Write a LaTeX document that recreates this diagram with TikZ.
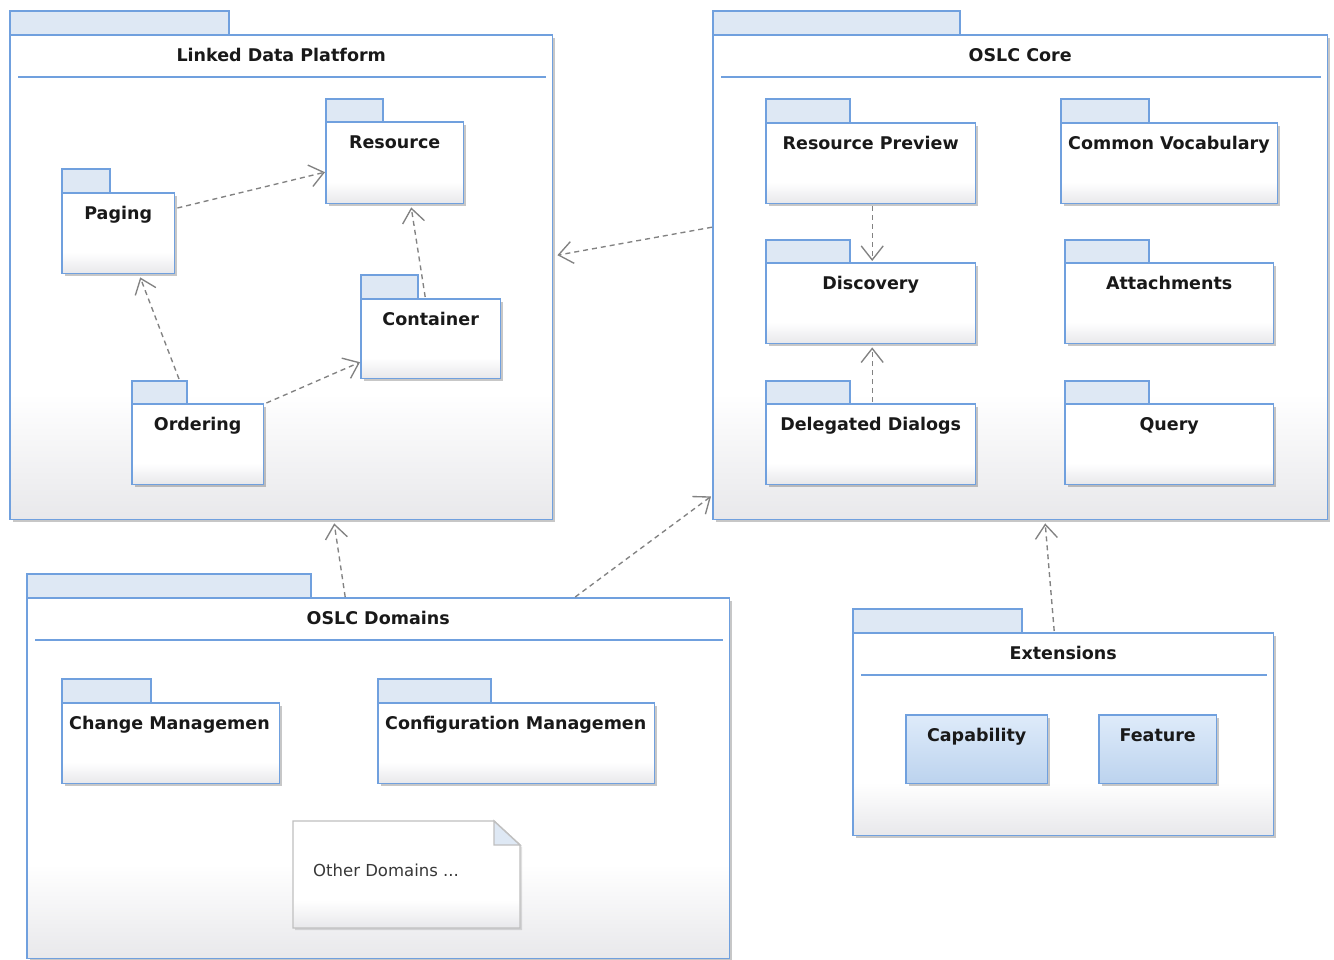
\documentclass[tikz,border=0pt]{standalone}
\usepackage{fontspec}
\setmainfont{DejaVu Sans}
\usetikzlibrary{arrows.meta,calc,shadows}
\definecolor{pkgline}{RGB}{112,160,222}
\definecolor{tabfill}{RGB}{222,232,244}
\definecolor{bodybot}{RGB}{232,232,235}
\definecolor{depgray}{RGB}{130,130,130}
\definecolor{bluetop}{RGB}{222,235,250}
\definecolor{bluebot}{RGB}{188,211,238}
\definecolor{notegray}{RGB}{192,192,192}
\definecolor{txt}{RGB}{25,25,25}
\pgfdeclareverticalshading{pkgshade}{100bp}{color(0bp)=(bodybot); color(25bp)=(bodybot); color(38bp)=(white); color(100bp)=(white)}
\pgfdeclareverticalshading{blueshade}{100bp}{color(0bp)=(bluebot); color(25bp)=(bluebot); color(75bp)=(bluetop); color(100bp)=(bluetop)}
\tikzset{
  pkgbody/.style={shade, shading=pkgshade, anchor=north west, inner sep=0pt,
    drop shadow={shadow xshift=2.5pt, shadow yshift=-2.5pt, opacity=0.22, fill=black}},
  bluebox/.style={shade, shading=blueshade, anchor=north west, inner sep=0pt,
    drop shadow={shadow xshift=2.5pt, shadow yshift=-2.5pt, opacity=0.22, fill=black}},
  border/.style={draw=pkgline, line width=1.6pt, opacity=1},
  pkgtab/.style={draw=pkgline, line width=1.6pt, fill=tabfill, opacity=1},
  sepline/.style={draw=pkgline, line width=1.6pt, opacity=1},
  lbl/.style={font=\fontsize{17.5}{20}\selectfont\bfseries, text=txt, inner sep=0pt},
  notetext/.style={font=\fontsize{16.5}{20}\selectfont, text=black!78, inner sep=0pt},
  dep/.style={draw=depgray, line width=1.35pt, dash pattern=on 5pt off 4pt, opacity=1,
    -{Straight Barb[length=14pt,width=22pt,line width=1.35pt]}}
}
% #1 name, #2 x1, #3 body top, #4 x2, #5 bottom, #6 tab top, #7 tab right
\newcommand\pkgnode[7]{%
  \draw[pkgtab] (#2,#6) rectangle (#7,#3);
  \node[pkgbody, minimum width={(#4-#2)*1pt}, minimum height={(#5-#3)*1pt}] (#1) at (#2,#3) {};
  \draw[border] (#1.north west) rectangle (#1.south east);}
\newcommand\pkglabel[2]{\node[lbl, anchor=base] (#1-lbl) at ($(#1.north)+(0,26.5)$) {#2};}
\newcommand\pkgsep[1]{\draw[sepline] ($(#1.north west)+(8,42)$) -- ($(#1.north east)+(-6,42)$);}
\begin{document}
\begin{tikzpicture}[x=1pt,y=-1pt]
\useasboundingbox (0,0) rectangle (1334,960);
\fill[white] (0,0) rectangle (1334,960);

% outer packages
\pkgnode{ldp}{10}{35}{552}{519}{11}{229}
\pkgnode{core}{713}{35}{1327}{519}{11}{960}
\pkgnode{domains}{27}{598}{729}{958}{574}{311}
\pkgnode{ext}{853}{633}{1273}{835}{609}{1022}

\pkglabel{ldp}{Linked Data Platform}
\pkglabel{core}{OSLC Core}
\pkglabel{domains}{OSLC Domains}
\pkglabel{ext}{Extensions}
\pkgsep{ldp}
\pkgsep{core}
\pkgsep{domains}
\pkgsep{ext}

% Linked Data Platform
\pkgnode{resource}{326}{122}{463}{203}{99}{383}
\pkgnode{paging}{62}{193}{174}{273}{169}{110}
\pkgnode{container}{361}{299}{500}{378}{275}{418}
\pkgnode{ordering}{132}{404}{263}{484}{381}{187}
\pkglabel{resource}{Resource}
\pkglabel{paging}{Paging}
\pkglabel{container}{Container}
\pkglabel{ordering}{Ordering}

% OSLC Core
\pkgnode{resprev}{766}{123}{975}{203}{99}{850}
\pkgnode{vocab}{1061}{123}{1277}{203}{99}{1149}
\pkgnode{discovery}{766}{263}{975}{343}{240}{850}
\pkgnode{attach}{1065}{263}{1273}{343}{240}{1149}
\pkgnode{deleg}{766}{404}{975}{484}{381}{850}
\pkgnode{query}{1065}{404}{1273}{484}{381}{1149}
\pkglabel{resprev}{Resource Preview}
\pkglabel{discovery}{Discovery}
\pkglabel{attach}{Attachments}
\pkglabel{deleg}{Delegated Dialogs}
\pkglabel{query}{Query}
\begin{scope}
  \clip (vocab.north west) rectangle (vocab.south east);
  \node[lbl, anchor=base west] (vocab-lbl) at ($(vocab.north west)+(7,26.5)$) {Common Vocabulary};
\end{scope}

% OSLC Domains
\pkgnode{change}{62}{703}{279}{783}{679}{151}
\pkgnode{config}{378}{703}{654}{783}{679}{491}
\begin{scope}
  \clip (change.north west) rectangle (change.south east);
  \node[lbl, anchor=base west] (change-lbl) at ($(change.north west)+(7,26.5)$) {Change Managemen};
\end{scope}
\begin{scope}
  \clip (config.north west) rectangle (config.south east);
  \node[lbl, anchor=base west] (config-lbl) at ($(config.north west)+(7,26.5)$) {Configuration Managemen};
\end{scope}
\path[shade, shading=pkgshade,
  drop shadow={shadow xshift=2pt, shadow yshift=-2pt, opacity=0.12, fill=black}]
  (293,821) -- (494,821) -- (520,845) -- (520,928) -- (293,928) -- cycle;
\draw[draw=notegray, line width=1.4pt, opacity=1]
  (293,821) -- (494,821) -- (520,845) -- (520,928) -- (293,928) -- cycle;
\draw[draw=notegray, line width=1.4pt, fill=tabfill, opacity=1] (494,821) -- (494,845) -- (520,845) -- cycle;
\node[notetext, anchor=base west] (other) at (313,876) {Other Domains ...};

% Extensions
\node[bluebox, minimum width=141pt, minimum height=68pt] (capab) at (906,715) {};
\draw[border] (capab.north west) rectangle (capab.south east);
\node[bluebox, minimum width=117pt, minimum height=68pt] (feature) at (1099,715) {};
\draw[border] (feature.north west) rectangle (feature.south east);
\pkglabel{capab}{Capability}
\pkglabel{feature}{Feature}

% dependencies
\draw[dep] ([xshift=3pt,yshift=-15pt]paging.north east) -- ([xshift=-1pt,yshift=-9.5pt]resource.west);
\draw[dep] ([xshift=-5.5pt,yshift=2pt]container.north) -- ([xshift=16.5pt,yshift=-4pt]resource.south);
\draw[dep] ([xshift=47pt,yshift=25pt]ordering.north west) -- ([xshift=22pt,yshift=-4pt]paging.south);
\draw[dep] ([xshift=3pt,yshift=1pt]ordering.north east) -- ([xshift=-1pt,yshift=-23.5pt]container.west);
\draw[dep] ([xshift=-1pt,yshift=50pt]core.west) -- ([xshift=5pt,yshift=22pt]ldp.east);
\draw[dep] ([xshift=1.5pt,yshift=-3pt]resprev.south) -- ([xshift=1.5pt,yshift=2pt]discovery.north);
\draw[dep] ([xshift=1.5pt,yshift=2pt]deleg.north) -- ([xshift=1.5pt,yshift=-4pt]discovery.south);
\draw[dep] ([xshift=-33pt,yshift=1pt]domains.north) -- ([xshift=53pt,yshift=-4pt]ldp.south);
\draw[dep] ([xshift=197pt,yshift=1pt]domains.north) -- ([xshift=-2pt,yshift=23pt]core.south west);
\draw[dep] ([xshift=-9pt,yshift=2pt]ext.north) -- ([xshift=25pt,yshift=-4pt]core.south);
\end{tikzpicture}
\end{document}
